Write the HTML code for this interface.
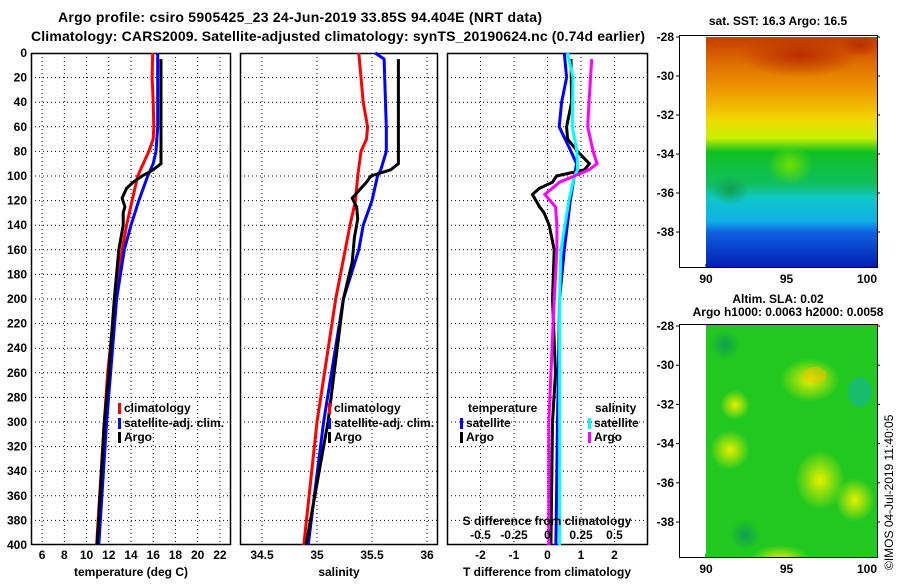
<!DOCTYPE html>
<html><head><meta charset="utf-8"><style>
body{margin:0;background:#fff;width:900px;height:580px;overflow:hidden}
svg{font-family:"Liberation Sans",sans-serif;font-weight:bold}
</style></head><body>
<svg id="c" width="900" height="580" viewBox="0 0 900 580">
<defs>
<linearGradient id="sst" x1="0" y1="0" x2="0" y2="1">
<stop offset="0" stop-color="#c83c00"/><stop offset="0.12" stop-color="#e07000"/><stop offset="0.25" stop-color="#f0a000"/>
<stop offset="0.36" stop-color="#f0d800"/><stop offset="0.44" stop-color="#c8f000"/><stop offset="0.5" stop-color="#10c020"/>
<stop offset="0.64" stop-color="#10c060"/><stop offset="0.7" stop-color="#10c8c8"/><stop offset="0.8" stop-color="#10b0e8"/>
<stop offset="0.85" stop-color="#1060e0"/><stop offset="1" stop-color="#0020b0"/></linearGradient>
<radialGradient id="ylw"><stop offset="0" stop-color="#e8f000"/><stop offset="1" stop-color="#e8f000" stop-opacity="0"/></radialGradient>
<radialGradient id="dg"><stop offset="0" stop-color="#10a050"/><stop offset="1" stop-color="#10a050" stop-opacity="0"/></radialGradient>
<radialGradient id="dor"><stop offset="0" stop-color="#b83000"/><stop offset="1" stop-color="#b83000" stop-opacity="0"/></radialGradient>
<radialGradient id="lg"><stop offset="0" stop-color="#70e000"/><stop offset="1" stop-color="#70e000" stop-opacity="0"/></radialGradient>
<clipPath id="c1"><rect x="706" y="37" width="171" height="230"/></clipPath>
<clipPath id="c2"><rect x="706" y="325" width="171" height="232"/></clipPath>
</defs>
<text x="300" y="22" font-size="14" text-anchor="middle" textLength="484">Argo profile: csiro 5905425_23 24-Jun-2019 33.85S 94.404E (NRT data)</text>
<text x="338" y="41" font-size="14" text-anchor="middle" textLength="614">Climatology: CARS2009. Satellite-adjusted climatology: synTS_20190624.nc (0.74d earlier)</text>
<g id="p"></g>
<g>
<g clip-path="url(#c1)">
<rect x="706" y="37" width="171" height="230" fill="url(#sst)"/>
<ellipse cx="800" cy="55" rx="60" ry="22" fill="url(#dor)"/>
<ellipse cx="860" cy="45" rx="20" ry="12" fill="url(#dor)"/>
<ellipse cx="790" cy="165" rx="22" ry="20" fill="url(#lg)"/>
<ellipse cx="730" cy="190" rx="20" ry="15" fill="url(#dg)"/>
</g>
<text x="778" y="25" font-size="12" text-anchor="middle">sat. SST: 16.3 Argo: 16.5</text>
<rect x="679.5" y="35.5" width="198" height="232" fill="none" stroke="#000"/>
</g>
<g>
<g clip-path="url(#c2)">
<rect x="706" y="325" width="171" height="232" fill="#20c820"/>
<ellipse cx="810" cy="380" rx="30" ry="22" fill="url(#ylw)"/>
<ellipse cx="815" cy="375" rx="12" ry="8" fill="#f0c000" opacity="0.5"/>
<ellipse cx="730" cy="450" rx="20" ry="20" fill="url(#ylw)"/>
<ellipse cx="820" cy="480" rx="25" ry="30" fill="url(#ylw)"/>
<ellipse cx="855" cy="500" rx="20" ry="22" fill="url(#ylw)"/>
<ellipse cx="780" cy="560" rx="30" ry="15" fill="url(#ylw)"/>
<ellipse cx="735" cy="405" rx="15" ry="15" fill="url(#ylw)"/>
<ellipse cx="860" cy="392" rx="12" ry="15" fill="#10b8a0" opacity="0.6"/>
<ellipse cx="745" cy="535" rx="15" ry="15" fill="url(#dg)"/>
<ellipse cx="725" cy="345" rx="15" ry="15" fill="url(#dg)"/>
</g>
<text x="778" y="303" font-size="12" text-anchor="middle">Altim. SLA: 0.02</text>
<text x="788" y="316" font-size="12" text-anchor="middle">Argo h1000: 0.0063 h2000: 0.0058</text>
<rect x="679.5" y="324.5" width="198" height="233" fill="none" stroke="#000"/>
</g>
<text transform="translate(893,570) rotate(-90)" font-size="12" font-weight="normal">©IMOS 04-Jul-2019 11:40:05</text>
</svg>
<script>
const depthTicks=[0,20,40,60,80,100,120,140,160,180,200,220,240,260,280,300,320,340,360,380,400];
const tTicks=[6,8,10,12,14,16,18,20,22];
const sTicks=[34.5,35,35.5,36];
const sTickLabels=["34.5","35","35.5","36"];
const dTicks=[-2,-1,0,1,2];
const sdTicks=[-0.5,-0.25,0,0.25,0.5];
const sdLabels=["-0.5","-0.25","0","0.25","0.5"];
const latTicks=[-28,-30,-32,-34,-36,-38];
const lonTicks=[90,95,100];
const tClim=[[0,15.95],[20,15.9],[40,16.0],[60,16.05],[70,16.0],[80,15.6],[90,15.1],[100,14.6],[120,14.1],[140,13.6],[160,13.2],[200,12.6],[260,11.9],[300,11.6],[400,10.9]];
const tSat=[[0,16.4],[60,16.4],[80,16.25],[90,16.0],[100,15.5],[120,14.7],[140,14.0],[160,13.4],[200,12.7],[300,11.8],[400,11.1]];
const tArgo=[[5,16.7],[90,16.7],[95,16.0],[100,15.0],[105,14.2],[110,13.6],[118,13.2],[125,13.45],[130,13.3],[140,13.3],[160,12.9],[200,12.5],[260,12.0],[300,11.6],[400,10.95]];
const sClim=[[0,35.38],[40,35.42],[60,35.46],[70,35.45],[80,35.40],[100,35.37],[120,35.35],[140,35.30],[200,35.17],[300,35.0],[400,34.88]];
const sSat=[[0,35.53],[5,35.61],[60,35.63],[80,35.63],[95,35.58],[100,35.55],[120,35.5],[140,35.42],[160,35.38],[200,35.24],[300,35.06],[400,34.92]];
const sArgo=[[5,35.74],[90,35.74],[95,35.67],[100,35.49],[105,35.45],[110,35.40],[118,35.32],[125,35.36],[135,35.37],[150,35.34],[170,35.32],[200,35.24],[300,35.1],[400,34.9]];
const dTSat=[[0,0.5],[20,0.57],[40,0.42],[60,0.35],[80,0.7],[90,0.87],[100,0.8],[120,0.68],[160,0.5],[200,0.36],[300,0.3],[400,0.25]];
const dTArgo=[[5,0.7],[40,0.72],[60,0.57],[70,0.6],[80,0.9],[90,1.25],[95,1.1],[100,0.27],[105,0.15],[110,-0.24],[115,-0.45],[125,-0.24],[130,-0.1],[140,0.05],[160,0.2],[200,0.15],[260,0.24],[300,0.15],[400,0.1]];
const dSSat=[[0,0.15],[20,0.19],[60,0.185],[80,0.22],[95,0.225],[100,0.2],[120,0.16],[160,0.1],[200,0.09],[300,0.09],[400,0.09]];
const dSArgo=[[5,0.33],[40,0.31],[60,0.3],[80,0.34],[90,0.37],[95,0.31],[100,0.2],[105,0.09],[115,-0.02],[125,0.06],[140,0.07],[160,0.07],[200,0.05],[300,0.01],[400,0.01]];

const NS='http://www.w3.org/2000/svg';
const G=document.getElementById('p');
function mk(tag,at,parent){const e=document.createElementNS(NS,tag);for(const k in at)e.setAttribute(k,at[k]);(parent||G).appendChild(e);return e;}
const Y0=53,Y1=545;
const yD=d=>Y0+(d/400)*(Y1-Y0);
const xT=v=>31+(v-5)/18*200;
const xS=v=>240+(v-34.3)/1.8*198;
const xD=v=>447+(v+3)/6*201;
const xSD=v=>447+(v+0.75)/1.5*201;

function panel(name,x0,x1,gx){
  const g=mk('g',{});
  
  
  gx.forEach(x=>mk('line',{x1:x,x2:x,y1:Y0,y2:Y1,stroke:'#000','stroke-dasharray':'1 3'},g));
  depthTicks.forEach(d=>{if(d>0&&d<400)mk('line',{x1:x0,x2:x1,y1:yD(d),y2:yD(d),stroke:'#000','stroke-dasharray':'1 3'},g);});
  mk('rect',{x:x0+0.5,y:Y0+0.5,width:x1-x0-1,height:Y1-Y0-1,fill:'none',stroke:'#000','stroke-width':1.5},g);
  return g;
}
function line(g,data,sx,col,name,w){
  const p=mk('polyline',{points:data.map(d=>sx(d[1]).toFixed(1)+','+yD(d[0]).toFixed(1)).join(' '),fill:'none',stroke:col,'stroke-width':w||3},g);
  
  
}
function txt(g,x,y,s,anchor,name,size){
  const t=mk('text',{x:x,y:y,'font-size':size||12,'text-anchor':anchor||'middle'},g);
  t.textContent=s;
  
  
  return t;
}
function leg(g,x,y,col,s,name){
  const r=mk('rect',{x:x,y:y-9,width:3,height:11,fill:col},g);
  
  
  txt(g,x+6,y,s,'start',name);
}
const p1=panel('temperature-panel',31,231,tTicks.map(xT));
line(p1,tClim,xT,'#ff0000','temp-climatology-line');
line(p1,tSat,xT,'#0000ff','temp-satellite-line');
line(p1,tArgo,xT,'#000000','temp-argo-line');
depthTicks.forEach(d=>txt(p1,27,yD(d)+4,String(d),'end','depth-tick-label'));
tTicks.forEach(t=>txt(p1,xT(t),559,String(t),'middle','temp-tick-label'));
txt(p1,131,576,'temperature (deg C)','middle','temp-axis-title');
leg(p1,118,412,'#ff0000','climatology','legend-climatology');
leg(p1,118,427,'#0000ff','satellite-adj. clim.','legend-satellite');
leg(p1,118,441,'#000000','Argo','legend-argo');
const p2=panel('salinity-panel',240,438,sTicks.map(xS));
line(p2,sClim,xS,'#ff0000','sal-climatology-line');
line(p2,sSat,xS,'#0000ff','sal-satellite-line');
line(p2,sArgo,xS,'#000000','sal-argo-line');
sTicks.forEach((s,i)=>txt(p2,xS(s),559,sTickLabels[i],'middle','sal-tick-label'));
txt(p2,339,576,'salinity','middle','sal-axis-title');
leg(p2,328,412,'#ff0000','climatology','legend-climatology-2');
leg(p2,328,427,'#0000ff','satellite-adj. clim.','legend-satellite-2');
leg(p2,328,441,'#000000','Argo','legend-argo-2');
const p3=panel('difference-panel',447,648,dTicks.map(xD));
line(p3,dTSat,xD,'#0000ff','tdiff-satellite-line');
line(p3,dTArgo,xD,'#000000','tdiff-argo-line');
line(p3,dSSat,xSD,'#00ffff','sdiff-satellite-line');
line(p3,dSArgo,xSD,'#ff00ff','sdiff-argo-line');
dTicks.forEach(t=>txt(p3,xD(t),559,String(t),'middle','tdiff-tick-label'));
txt(p3,547,576,'T difference from climatology','middle','tdiff-axis-title');
sdTicks.forEach((t,i)=>txt(p3,xSD(t),539,sdLabels[i],'middle','sdiff-tick-label'));
txt(p3,547,525,'S difference from climatology','middle','sdiff-axis-title');
txt(p3,468,412,'temperature','start','legend-temperature-header');
leg(p3,460,427,'#0000ff','satellite','legend-t-satellite');
leg(p3,460,441,'#000000','Argo','legend-t-argo');
txt(p3,595,412,'salinity','start','legend-salinity-header');
leg(p3,588,427,'#00ffff','satellite','legend-s-satellite');
leg(p3,588,441,'#ff00ff','Argo','legend-s-argo');
[[37,232],[326,522]].forEach((m,mi)=>{
  const g=mk('g',{});
  
  
  const yl=lat=>m[0]+(-28-lat)/10*(m[1]-m[0]);
  latTicks.forEach(l=>{mk('line',{x1:676,x2:680,y1:yl(l),y2:yl(l),stroke:'#000'},g);mk('line',{x1:877,x2:880,y1:yl(l),y2:yl(l),stroke:'#000'},g);txt(g,674,yl(l)+4,String(l),'end','lat-tick-label');});
  const base=mi?557:267;
  lonTicks.forEach(l=>{const x=706+(l-90)/10*161;mk('line',{x1:x,x2:x,y1:base-3,y2:base,stroke:'#000'},g);txt(g,x,base+16,String(l),'middle','lon-tick-label');});
});
</script>
</body></html>
